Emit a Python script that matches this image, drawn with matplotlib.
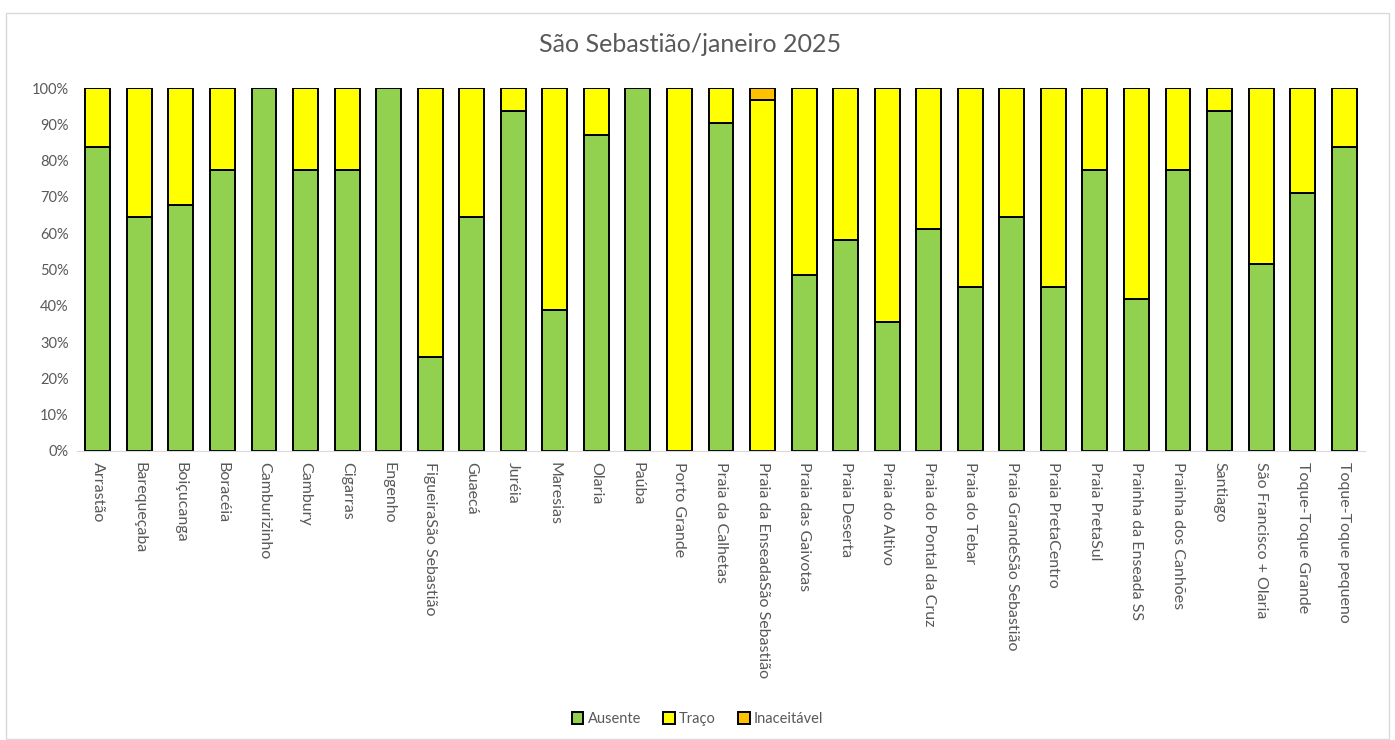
import matplotlib.pyplot as plt
import numpy as np
from matplotlib.patches import Rectangle

plt.rcParams["font.family"] = ["Lato", "DejaVu Sans"]

praias = [
    "Arrastão", "Barequeçaba", "Boiçucanga", "Boracéia", "Camburizinho",
    "Cambury", "Cigarras", "Engenho", "FigueiraSão Sebastião", "Guaecá",
    "Juréia", "Maresias", "Olaria", "Paúba", "Porto Grande",
    "Praia da Calhetas", "Praia da EnseadaSão Sebastião", "Praia das Gaivotas",
    "Praia Deserta", "Praia do Altivo", "Praia do Pontal da Cruz",
    "Praia do Tebar", "Praia GrandeSão Sebastião", "Praia PretaCentro",
    "Praia PretaSul", "Prainha da Enseada SS", "Prainha dos Canhões",
    "Santiago", "São Francisco + Olaria", "Toque-Toque Grande",
    "Toque-Toque pequeno",
]
# dias no mês (janeiro)
ausente = [26, 20, 21, 24, 31, 24, 24, 31, 8, 20, 29, 12, 27, 31, 0, 28, 0,
           15, 18, 11, 19, 14, 20, 14, 24, 13, 24, 29, 16, 22, 26]
inaceitavel = [0, 0, 0, 0, 0, 0, 0, 0, 0, 0, 0, 0, 0, 0, 0, 0, 1,
               0, 0, 0, 0, 0, 0, 0, 0, 0, 0, 0, 0, 0, 0]
traco = [31 - a - i for a, i in zip(ausente, inaceitavel)]

total = np.array(ausente) + np.array(traco) + np.array(inaceitavel)
p_aus = np.array(ausente) / total
p_tra = np.array(traco) / total
p_ina = np.array(inaceitavel) / total

grey = "#595959"
fig = plt.figure(figsize=(13.95, 7.4), dpi=100)
ax = fig.add_axes([77 / 1395, 289 / 740, 1288 / 1395, 363 / 740])

x = np.arange(len(praias))
kw = dict(width=0.6, edgecolor="black", linewidth=1.4)
ax.bar(x, p_aus, color="#92d050", label="Ausente", **kw)
ax.bar(x, p_tra, bottom=p_aus, color="#ffff00", label="Traço", **kw)
ax.bar(x, p_ina, bottom=p_aus + p_tra, color="#ffc000", label="Inaceitável", **kw)

ax.set_xlim(-0.5, len(praias) - 0.5)
ax.set_ylim(0, 1)
ax.set_yticks(np.arange(0, 1.01, 0.1))
ax.set_yticklabels([f"{int(round(v * 100))}%" for v in np.arange(0, 1.01, 0.1)])
ax.set_xticks(x)
ax.set_xticklabels(praias, rotation=270, va="top", ha="center")
ax.tick_params(axis="both", length=0, colors=grey)
ax.tick_params(axis="x", pad=8, labelsize=11.5)
ax.tick_params(axis="y", pad=6, labelsize=10.5)
for s in ["top", "right", "left"]:
    ax.spines[s].set_visible(False)
ax.spines["bottom"].set_color("#d9d9d9")

fig.text(690 / 1395, 1 - 45 / 740, "São Sebastião/janeiro 2025", ha="center",
         va="center", fontsize=18, color=grey)

leg = fig.legend(loc="center", bbox_to_anchor=(0.5, 1 - 719 / 740), ncol=3,
                 frameon=False, fontsize=10.5, handlelength=0.8, handleheight=0.8,
                 handletextpad=0.3, columnspacing=1.5)
for t in leg.get_texts():
    t.set_color(grey)

fig.add_artist(Rectangle((6 / 1395, 0.002), 1 - 12 / 1395, 1 - 14 / 740,
                         transform=fig.transFigure, fill=False,
                         edgecolor="#d9d9d9", linewidth=1))

fig.savefig("out.png", dpi=100)
